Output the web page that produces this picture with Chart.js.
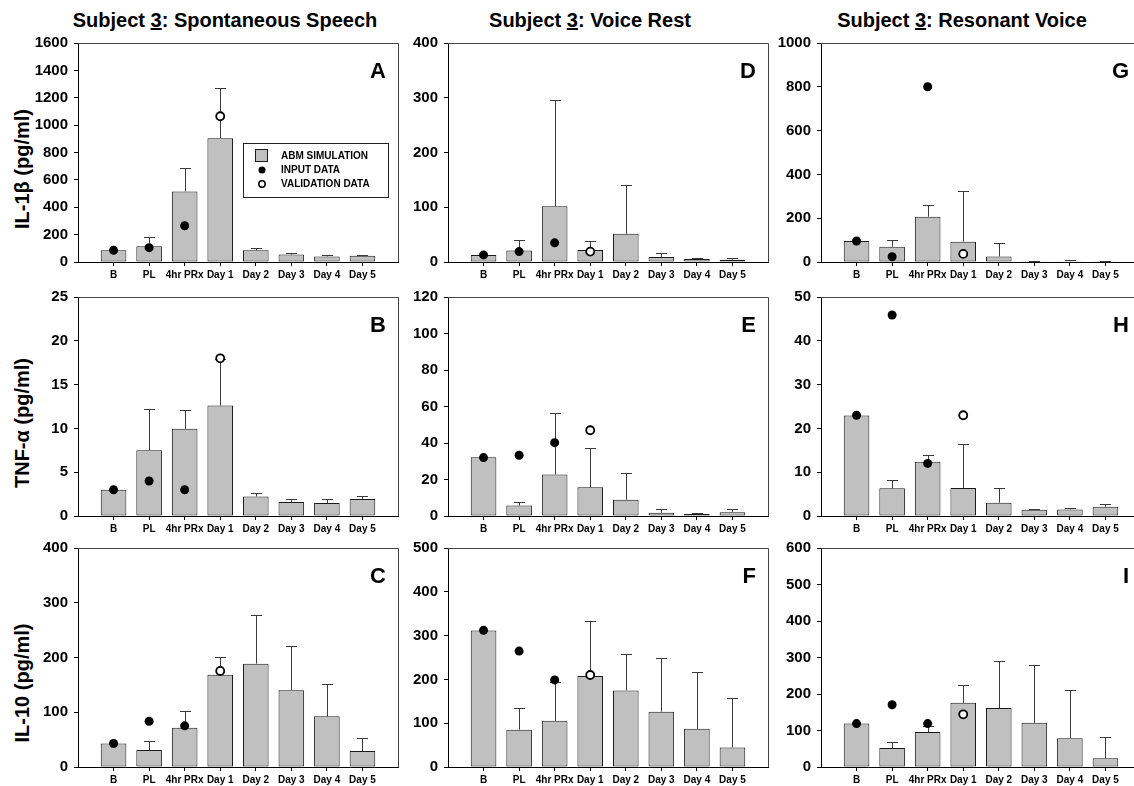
<!DOCTYPE html>
<html>
<head>
<meta charset="utf-8">
<script src="https://cdn.jsdelivr.net/npm/chart.js@4.4.1/dist/chart.umd.min.js"></script>
<style>
  html, body { margin: 0; padding: 0; background: #fff; overflow: hidden; width: 1134px; height: 786px; }
  body { position: relative; font-family: "Liberation Sans", Arial, sans-serif; color: #000; }
  canvas { position: absolute; }
  .coltitle { position: absolute; top: 10px; font-weight: bold; font-size: 20px; line-height: 20px; white-space: nowrap; transform: translateX(-50%); }
  .ytitle { position: absolute; width: 200px; height: 24px; line-height: 24px; text-align: center; font-weight: bold; font-size: 20px; white-space: nowrap; transform: rotate(-90deg); }
</style>
</head>
<body>
<script>
// ---- data ----------------------------------------------------------------
const CATEGORIES = ["B", "PL", "4hr PRx", "Day 1", "Day 2", "Day 3", "Day 4", "Day 5"]
const SUBJECT = "3"
const COLUMN_TITLES = ["Spontaneous Speech", "Voice Rest", "Resonant Voice"]
const ROW_TITLES = ["IL-1β (pg/ml)", "TNF-α (pg/ml)", "IL-10 (pg/ml)"]
const PANEL_LETTERS = [["A", "D", "G"], ["B", "E", "H"], ["C", "F", "I"]]
const LEGEND_LABELS = ["ABM SIMULATION", "INPUT DATA", "VALIDATION DATA"]

// y axis range per panel (row = cytokine, column = condition)
const Y_MAX = [[1600, 400, 1000], [25, 120, 50], [400, 500, 600]]
const Y_STEP = [[200, 100, 200], [5, 20, 10], [100, 100, 100]]

// IL-1β
const il1bSpeechSim = [85, 115, 515, 905, 85, 55, 40, 45]
const il1bSpeechSd = [0, 65, 170, 365, 20, 10, 10, 3]
const il1bSpeechInput = [85, 105, 265, null, null, null, null, null]
const il1bSpeechValid = [null, null, null, 1065, null, null, null, null]

const il1bRestSim = [13, 21, 102, 22, 51.5, 9, 5.5, 4]
const il1bRestSd = [0, 19, 193, 16, 88.5, 8, 1, 3]
const il1bRestInput = [13, 19, 35, null, null, null, null, null]
const il1bRestValid = [null, null, null, 19, null, null, null, null]

const il1bResonantSim = [96, 70, 207, 93, 25, 3, 3, 3]
const il1bResonantSd = [0, 29, 55, 233, 60, 3, 4, 2]
const il1bResonantInput = [96, 24, 800, null, null, null, null, null]
const il1bResonantValid = [null, null, null, 37, null, null, null, null]

// TNF-α
const tnfSpeechSim = [3.0, 7.5, 9.95, 12.6, 2.23, 1.6, 1.49, 1.93]
const tnfSpeechSd = [0, 4.67, 2.1, 5.3, 0.34, 0.3, 0.41, 0.37]
const tnfSpeechInput = [3.0, 4.0, 3.0, null, null, null, null, null]
const tnfSpeechValid = [null, null, null, 18, null, null, null, null]

const tnfRestSim = [32.2, 5.7, 22.7, 15.7, 8.9, 1.8, 1.1, 2.1]
const tnfRestSd = [0, 2.2, 34, 21.5, 14.5, 2.3, 0.5, 1.5]
const tnfRestInput = [32, 33.3, 40.2, null, null, null, null, null]
const tnfRestValid = [null, null, null, 47, null, null, null, null]

const tnfResonantSim = [22.95, 6.33, 12.37, 6.4, 3.05, 1.4, 1.5, 2.1]
const tnfResonantSd = [0, 1.94, 1.53, 10.1, 3.25, 0.2, 0.36, 0.66]
const tnfResonantInput = [23, 45.9, 12.0, null, null, null, null, null]
const tnfResonantValid = [null, null, null, 23, null, null, null, null]

// IL-10
const il10SpeechSim = [43, 31, 71.6, 168.4, 188.7, 140.3, 92.5, 29.3]
const il10SpeechSd = [0, 17.4, 29.9, 33.4, 88.3, 80.6, 59.7, 24.4]
const il10SpeechInput = [43, 83.6, 75.2, null, null, null, null, null]
const il10SpeechValid = [null, null, null, 175.5, null, null, null, null]

const il10RestSim = [311.7, 85.2, 105.4, 207.8, 174.9, 126.3, 87.4, 44.8]
const il10RestSd = [0, 50.1, 89.6, 126.2, 82.9, 122.6, 130.1, 113.6]
const il10RestInput = [312, 264.6, 198.8, null, null, null, null, null]
const il10RestValid = [null, null, null, 210, null, null, null, null]

const il10ResonantSim = [119.3, 52, 96, 175.8, 161.4, 121, 79, 24.2]
const il10ResonantSd = [0, 17, 16, 49.2, 128.3, 159.7, 131.8, 58.3]
const il10ResonantInput = [119, 170.4, 119, null, null, null, null, null]
const il10ResonantValid = [null, null, null, 144.4, null, null, null, null]

const PANELS = [
  [
    [il1bSpeechSim, il1bSpeechSd, il1bSpeechInput, il1bSpeechValid],
    [il1bRestSim, il1bRestSd, il1bRestInput, il1bRestValid],
    [il1bResonantSim, il1bResonantSd, il1bResonantInput, il1bResonantValid]
  ],
  [
    [tnfSpeechSim, tnfSpeechSd, tnfSpeechInput, tnfSpeechValid],
    [tnfRestSim, tnfRestSd, tnfRestInput, tnfRestValid],
    [tnfResonantSim, tnfResonantSd, tnfResonantInput, tnfResonantValid]
  ],
  [
    [il10SpeechSim, il10SpeechSd, il10SpeechInput, il10SpeechValid],
    [il10RestSim, il10RestSd, il10RestInput, il10RestValid],
    [il10ResonantSim, il10ResonantSd, il10ResonantInput, il10ResonantValid]
  ]
]

// ---- layout / style ------------------------------------------------------
const FONT = "'Liberation Sans', Arial, sans-serif"
const COL_LEFT = [78, 448, 821] // plot-area left edge per column
const ROW_TOP = [38, 292, 543] // plot-area top edge per row
const PLOT_W = 320
const PLOT_H = 224
const Y_AXIS_W = 78
const X_AXIS_H = 22
const PAD_TOP = 10
const PAD_RIGHT = 6
const COL_TITLE_X = [225, 590, 962]
const ROW_TITLE_Y = [169, 423, 683]

const BAR_FILL = "#c0c0c0"
const BAR_EDGE = "#1a1a1a"
const ERROR_COLOR = "#3a3a3a"
const FRAME_COLOR = "#444"
const CAP_HALF = 5.5

Chart.defaults.font.family = FONT

// Upward-only error bars with a cap, drawn right after the bars so the
// data markers end up on top of them.
function errorBarsPlugin(means, sds) {
  return {
    id: "errorBars",
    afterDatasetDraw(chart, args) {
      if (args.index !== 0) return
      const { ctx, scales } = chart
      ctx.save()
      ctx.strokeStyle = ERROR_COLOR
      ctx.lineWidth = 1
      means.forEach((m, i) => {
        if (!sds[i]) return
        const x = Math.round(scales.x.getPixelForValue(i + 1)) + 0.5
        const y0 = scales.y.getPixelForValue(m)
        const y1 = Math.round(scales.y.getPixelForValue(m + sds[i])) + 0.5
        ctx.beginPath()
        ctx.moveTo(x, y0)
        ctx.lineTo(x, y1)
        ctx.moveTo(x - CAP_HALF, y1)
        ctx.lineTo(x + CAP_HALF, y1)
        ctx.stroke()
      })
      ctx.restore()
    }
  }
}

function drawLegend(ctx, a) {
  const left = a.left + 165
  const top = a.top + 100
  ctx.strokeStyle = "#222"
  ctx.lineWidth = 1
  ctx.fillStyle = "#fff"
  ctx.fillRect(left + 0.5, top + 0.5, 145, 54)
  ctx.strokeRect(left + 0.5, top + 0.5, 145, 54)
  const rows = [top + 13, top + 27, top + 41]
  const sx = left + 19
  // simulation swatch
  ctx.fillStyle = BAR_FILL
  ctx.fillRect(sx - 6.5, rows[0] - 6.5, 12, 12)
  ctx.strokeStyle = BAR_EDGE
  ctx.strokeRect(sx - 6.5, rows[0] - 6.5, 12, 12)
  // input marker
  ctx.fillStyle = "#000"
  ctx.beginPath()
  ctx.arc(sx, rows[1], 3.5, 0, Math.PI * 2)
  ctx.fill()
  // validation marker
  ctx.fillStyle = "#fff"
  ctx.strokeStyle = "#000"
  ctx.lineWidth = 1.5
  ctx.beginPath()
  ctx.arc(sx, rows[2], 3.2, 0, Math.PI * 2)
  ctx.fill()
  ctx.stroke()
  ctx.fillStyle = "#000"
  ctx.font = `bold 10px ${FONT}`
  ctx.textAlign = "left"
  ctx.textBaseline = "middle"
  LEGEND_LABELS.forEach((t, i) => ctx.fillText(t, left + 38, rows[i] + 0.5))
}

// Top/right frame edges, panel letter and (panel A only) the legend.
function panelDecorPlugin(letter, withLegend) {
  return {
    id: "panelDecor",
    afterDraw(chart) {
      const { ctx, chartArea: a } = chart
      ctx.save()
      ctx.strokeStyle = FRAME_COLOR
      ctx.lineWidth = 1
      ctx.beginPath()
      ctx.moveTo(a.left, a.top + 0.5)
      ctx.lineTo(a.right + 0.5, a.top + 0.5)
      ctx.lineTo(a.right + 0.5, a.bottom)
      ctx.stroke()
      ctx.fillStyle = "#000"
      ctx.font = `bold 22px ${FONT}`
      ctx.textAlign = "right"
      ctx.textBaseline = "alphabetic"
      ctx.fillText(letter, a.right - 12, a.top + 35)
      if (withLegend) drawLegend(ctx, a)
      ctx.restore()
    }
  }
}

function points(values) {
  return values.map((v, i) => (v == null ? null : { x: i + 1, y: v })).filter(Boolean)
}

function makePanel(row, col) {
  const [sim, sd, input, valid] = PANELS[row][col]
  const canvas = document.createElement("canvas")
  const w = Y_AXIS_W + PLOT_W + PAD_RIGHT
  const h = PAD_TOP + PLOT_H + X_AXIS_H
  canvas.width = w
  canvas.height = h
  canvas.style.width = w + "px"
  canvas.style.height = h + "px"
  canvas.style.left = COL_LEFT[col] - Y_AXIS_W + "px"
  canvas.style.top = ROW_TOP[row] - PAD_TOP + "px"
  document.body.appendChild(canvas)

  new Chart(canvas.getContext("2d"), {
    type: "bar",
    plugins: [errorBarsPlugin(sim, sd), panelDecorPlugin(PANEL_LETTERS[row][col], row === 0 && col === 0)],
    data: {
      datasets: [
        {
          type: "bar",
          label: LEGEND_LABELS[0],
          data: sim.map((v, i) => ({ x: i + 1, y: v })),
          backgroundColor: BAR_FILL,
          borderColor: BAR_EDGE,
          borderWidth: 1,
          borderSkipped: false,
          categoryPercentage: 0.8,
          barPercentage: 0.9,
          order: 3
        },
        {
          type: "scatter",
          label: LEGEND_LABELS[1],
          data: points(input),
          pointRadius: 4.5,
          pointBackgroundColor: "#000",
          pointBorderWidth: 0,
          order: 2
        },
        {
          type: "scatter",
          label: LEGEND_LABELS[2],
          data: points(valid),
          pointRadius: 4,
          pointBackgroundColor: "#fff",
          pointBorderColor: "#000",
          pointBorderWidth: 1.8,
          order: 1
        }
      ]
    },
    options: {
      responsive: false,
      animation: false,
      layout: { padding: { top: PAD_TOP, right: PAD_RIGHT, left: 0, bottom: 0 } },
      plugins: { legend: { display: false }, tooltip: { enabled: false } },
      scales: {
        x: {
          type: "linear",
          offset: false,
          min: 0,
          max: CATEGORIES.length + 1,
          afterBuildTicks: (axis) => {
            axis.ticks = CATEGORIES.map((_, i) => ({ value: i + 1 }))
          },
          afterFit: (scale) => {
            scale.height = X_AXIS_H
          },
          grid: { offset: false, drawOnChartArea: false, drawTicks: true, tickLength: 4, color: "#000" },
          border: { color: "#000", width: 1 },
          ticks: {
            autoSkip: false,
            maxRotation: 0,
            minRotation: 0,
            padding: 3,
            color: "#000",
            font: { size: 10, weight: "bold" },
            callback: (v) => CATEGORIES[Math.round(v) - 1]
          }
        },
        y: {
          min: 0,
          max: Y_MAX[row][col],
          afterFit: (scale) => {
            scale.width = Y_AXIS_W
          },
          grid: { drawOnChartArea: false, drawTicks: true, tickLength: 4, color: "#000" },
          border: { color: "#000", width: 1 },
          ticks: {
            stepSize: Y_STEP[row][col],
            padding: 6,
            color: "#000",
            font: { size: 15, weight: "bold" },
            // plain numbers, no thousands separator
            callback: (v) => String(v)
          }
        }
      }
    }
  })
}

// column headings with the underlined subject number
COLUMN_TITLES.forEach((t, col) => {
  const div = document.createElement("div")
  div.className = "coltitle"
  div.style.left = COL_TITLE_X[col] + "px"
  div.innerHTML = `Subject <u>${SUBJECT}</u>: ${t}`
  document.body.appendChild(div)
})

// rotated cytokine labels for the left column
ROW_TITLES.forEach((t, row) => {
  const div = document.createElement("div")
  div.className = "ytitle"
  div.style.left = 21.5 - 100 + "px"
  div.style.top = ROW_TITLE_Y[row] - 12 + "px"
  div.textContent = t
  document.body.appendChild(div)
})

for (let row = 0; row < 3; row++) {
  for (let col = 0; col < 3; col++) makePanel(row, col)
}
</script>
</body>
</html>
